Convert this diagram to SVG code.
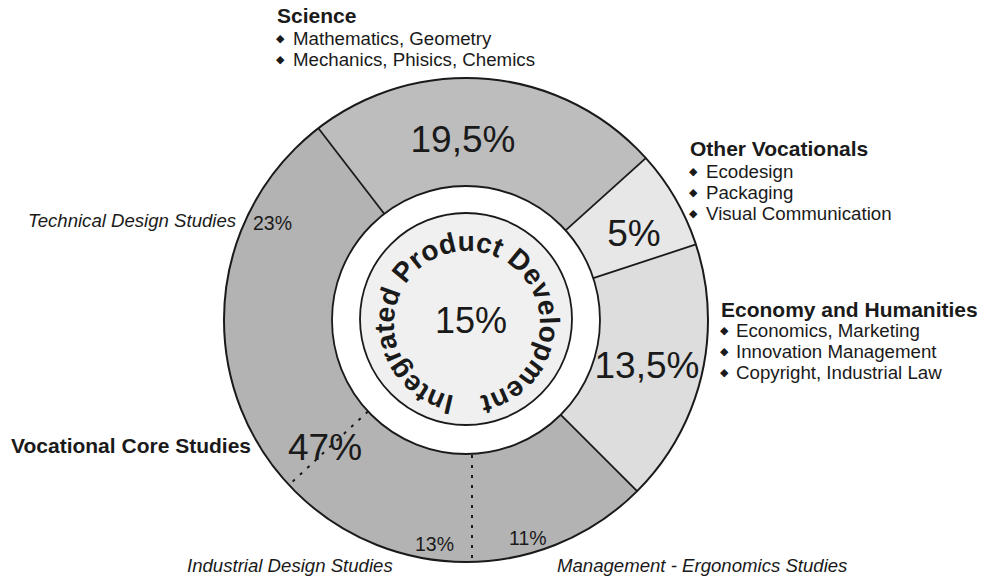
<svg xmlns="http://www.w3.org/2000/svg" width="982" height="579" viewBox="0 0 982 579">
<style>
text{font-family:"Liberation Sans",Arial,sans-serif;fill:#1a1a1a}
.h{font-size:21px;font-weight:bold}
.b{font-size:18.7px}
.it{font-size:18.6px;font-style:italic}
.big{font-size:37px}
.sm{font-size:19.5px}
.dot{font-family:"DejaVu Sans",sans-serif;font-size:11px}
.div{stroke:#1a1a1a;stroke-width:1.8;fill:none}
.dash{stroke:#1a1a1a;stroke-width:2;stroke-dasharray:3 7;fill:none}
.arc{font-size:28px;font-weight:bold}
</style>
<defs>
<path id="tp" d="M467 397 A73 73 0 1 1 467 251 A73 73 0 1 1 467 397"/>
</defs>
<rect width="982" height="579" fill="#fff"/>
<g id="vocational-core">
<circle cx="466" cy="320" r="242" fill="#b3b3b3"/>
</g>
<g id="science-sector">
<path d="M466 320 L318.4 128.3 A242 242 0 0 1 645.8 158.1 Z" fill="#bdbdbd"/>
<text class="big" x="463" y="152" text-anchor="middle">19,5%</text>
</g>
<g id="other-sector">
<path d="M466 320 L645.8 158.1 A242 242 0 0 1 695.9 244.4 Z" fill="#e7e7e7"/>
<text class="big" x="634" y="246" text-anchor="middle">5%</text>
</g>
<g id="economy-sector">
<path d="M466 320 L695.9 244.4 A242 242 0 0 1 637.1 491.1 Z" fill="#dddddd"/>
<text class="big" x="647" y="378" text-anchor="middle">13,5%</text>
</g>
<g id="outline">
<circle cx="466" cy="320" r="242" fill="none" stroke="#1a1a1a" stroke-width="2"/>
</g>
<g id="connectors">
<line class="div" x1="384.2" y1="213.8" x2="318.4" y2="128.3"/>
<line class="div" x1="565.6" y1="230.3" x2="645.8" y2="158.1"/>
<line class="div" x1="593.3" y1="278.2" x2="695.9" y2="244.4"/>
<line class="div" x1="560.8" y1="414.8" x2="637.1" y2="491.1"/>
<line class="dash" x1="368" y1="411.4" x2="289" y2="485"/>
<line class="dash" x1="472" y1="455" x2="472" y2="562"/>
</g>
<g id="ring">
<circle cx="466" cy="320" r="134" fill="#fff" stroke="#1a1a1a" stroke-width="1.8"/>
</g>
<g id="ipd">
<circle cx="466" cy="319" r="106" fill="#f0f0f0" stroke="#1a1a1a" stroke-width="1.8"/>
<text class="arc"><textPath href="#tp" startOffset="50%" text-anchor="middle">Integrated Product Development</textPath></text>
<text x="471" y="333" font-size="36" text-anchor="middle">15%</text>
</g>
<g id="vocational-labels">
<text class="big" x="288" y="460">47%</text>
<text class="sm" x="253" y="230">23%</text>
<text class="sm" x="415" y="551">13%</text>
<text class="sm" x="509" y="545">11%</text>
<text class="h" x="11" y="453">Vocational Core Studies</text>
<text class="it" x="28" y="227">Technical Design Studies</text>
<text class="it" x="187" y="572">Industrial Design Studies</text>
<text class="it" x="557" y="572">Management - Ergonomics Studies</text>
</g>
<g id="science-label">
<text class="h" x="277" y="23">Science</text>
<text class="dot" x="276" y="42">◆</text>
<text class="b" x="293" y="45">Mathematics, Geometry</text>
<text class="dot" x="276" y="63">◆</text>
<text class="b" x="293" y="66">Mechanics, Phisics, Chemics</text>
</g>
<g id="other-label">
<text class="h" x="690" y="156">Other Vocationals</text>
<text class="dot" x="689" y="175">◆</text>
<text class="b" x="706" y="178">Ecodesign</text>
<text class="dot" x="689" y="196">◆</text>
<text class="b" x="706" y="199">Packaging</text>
<text class="dot" x="689" y="217">◆</text>
<text class="b" x="706" y="220">Visual Communication</text>
</g>
<g id="economy-label">
<text class="h" x="721" y="317">Economy and Humanities</text>
<text class="dot" x="720" y="334">◆</text>
<text class="b" x="736" y="337">Economics, Marketing</text>
<text class="dot" x="720" y="355">◆</text>
<text class="b" x="736" y="358">Innovation Management</text>
<text class="dot" x="720" y="376">◆</text>
<text class="b" x="736" y="379">Copyright, Industrial Law</text>
</g>
</svg>
